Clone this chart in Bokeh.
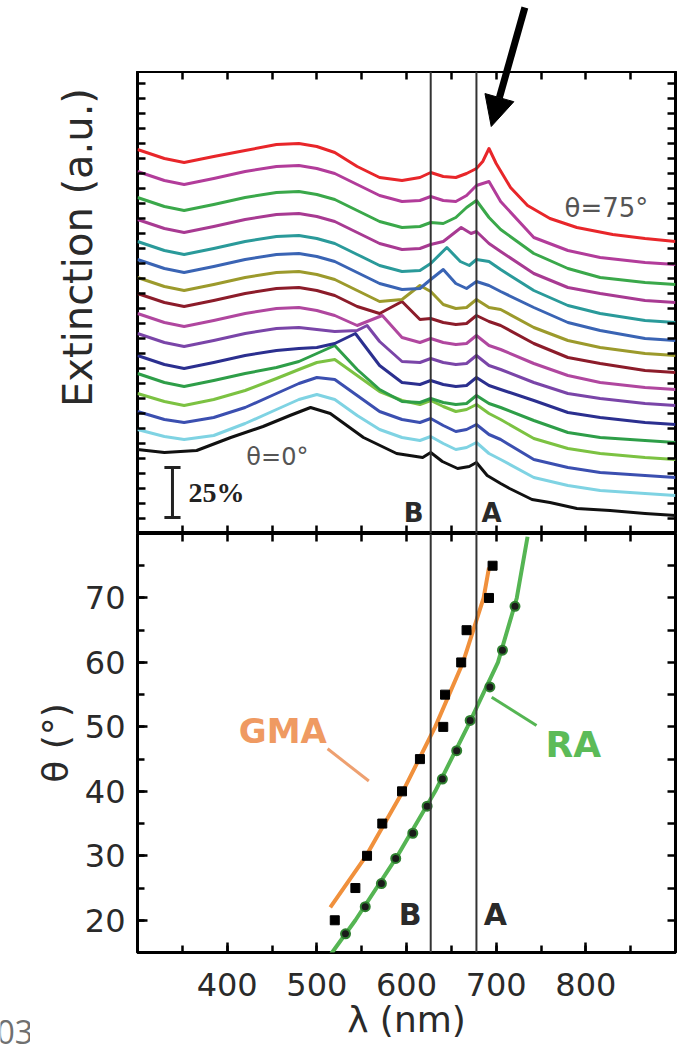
from bokeh.plotting import figure
from bokeh.models import Range1d, LinearAxis, FixedTicker, Span, Label, Arrow, NormalHead
from bokeh.layouts import column, row
from bokeh.embed import file_html
from bokeh.resources import INLINE

# ---------------- data: extinction spectra (offset, %), one per angle ----------------
angles = [0, 5, 10, 15, 20, 25, 30, 35, 40, 45, 50, 55, 60, 65, 70, 75]
curve_colors = ["#111111", "#7fd3e3", "#3b4fb0", "#7cc242", "#2e9e48", "#2b2f8f",
                "#7a45a8", "#b0479f", "#8c1c2a", "#9c9a2c", "#3a64b4", "#2a9a9a",
                "#a83a92", "#3aa84a", "#b23c9a", "#e8262a"]

lam_grid = [300, 330, 352, 385, 420, 455, 480, 500, 520, 545, 570, 595, 615, 627,
            641, 655, 667, 678, 692, 705, 742, 780, 816, 866, 900]

lam_00 = [300, 330, 366, 404, 440, 470, 493, 515, 552, 589, 618, 627, 640, 657, 670,
          678, 690, 705, 715, 740, 760, 790, 827, 866, 900]
ext_00 = [42, 40.5, 41.5, 48, 53.5, 59, 63, 60, 48, 40, 38, 40.5, 36, 32.5, 33.5,
          35.5, 29, 25, 22.5, 17, 15.5, 12.5, 11.5, 10, 9]
lam_05 = lam_grid
ext_05 = [52, 48.5, 47, 49, 55, 62, 67, 69.5, 67, 59, 52, 48, 46.5, 48.5, 45, 42, 43,
          45.5, 40, 37, 28, 24, 21.5, 20, 19]
lam_10 = lam_grid
ext_10 = [61, 57, 55.5, 58, 63, 70, 75, 78, 77, 69, 61, 57, 55.5, 57.5, 54, 51, 52,
          54.5, 49.5, 47, 37, 33, 30.5, 29, 28]
lam_15 = lam_grid
ext_15 = [70, 66, 64, 67, 71.5, 77.5, 82, 85.5, 87, 79, 71, 66.5, 64.5, 66.5, 63.5, 61,
          62, 64.5, 60, 57, 47.5, 42.5, 40, 38, 37]
lam_20 = lam_grid
ext_20 = [80, 75.5, 73.5, 76.5, 80, 83, 86, 90, 94, 82, 72, 66, 65.5, 67.5, 65.5, 64.5,
          65, 69, 65, 63, 56.5, 50.5, 48, 46.5, 45.5]
lam_25 = [300, 330, 352, 385, 420, 455, 480, 500, 520, 543, 570, 595, 615, 627, 641,
          655, 667, 678, 692, 705, 742, 780, 816, 866, 900]
ext_25 = [89, 84.5, 82.5, 85.5, 89, 91.5, 92.5, 93, 95, 100, 84, 75.5, 74.5, 76.5, 74.5,
          73.5, 74, 78, 74, 72, 66.5, 60.5, 58, 55.5, 54.5]
lam_30 = [300, 330, 352, 385, 420, 455, 480, 500, 520, 545, 556, 570, 595, 615, 627,
          641, 655, 667, 678, 692, 705, 742, 780, 816, 866, 900]
ext_30 = [100, 95.5, 93.5, 96.5, 100, 102.5, 103, 102, 101, 101.5, 104, 96, 86, 85.5,
          87.5, 85.5, 84.5, 85, 89, 84, 82, 75.5, 70, 67.5, 65, 64]
lam_35 = [300, 330, 352, 385, 420, 455, 480, 500, 520, 545, 573, 595, 615, 627, 641,
          655, 667, 678, 692, 705, 742, 780, 816, 866, 900]
ext_35 = [110, 105.5, 103.5, 106.5, 110, 112.5, 113, 111.5, 109, 104, 109, 98, 95.5,
          97.5, 95.5, 94.5, 95, 99, 94, 92, 85, 79, 75.5, 73, 72]
lam_40 = lam_grid
ext_40 = [120, 115.5, 113.5, 116.5, 120, 122.5, 123, 121.5, 119, 113.5, 110, 116, 107,
          107.5, 105.5, 104.5, 105, 109, 106, 104, 95, 88, 85, 81.5, 80.5]
lam_45 = lam_grid
ext_45 = [128, 123.5, 121.5, 124.5, 128, 130.5, 131, 129.5, 127, 121.5, 116, 117, 124,
          121, 114.5, 112.5, 113, 117, 113, 112, 103, 96.5, 93, 90, 89]
lam_50 = lam_grid
ext_50 = [137, 132.5, 130.5, 133.5, 137, 139.5, 140, 138.5, 136, 130.5, 125, 122, 122.5,
          127, 132, 125, 122.5, 126, 124, 121, 113, 105.5, 101.5, 97.5, 96.5]
lam_55 = [300, 330, 352, 385, 420, 455, 480, 500, 520, 545, 570, 595, 615, 627, 645,
          660, 670, 678, 692, 705, 742, 780, 816, 866, 900]
ext_55 = [146, 141.5, 139.5, 142.5, 146, 148.5, 149, 147.5, 145, 139.5, 134, 131, 131.5,
          135, 143, 136, 134, 137, 136, 132, 121.5, 114, 110, 106.5, 105.5]
lam_60 = [300, 330, 352, 385, 420, 455, 480, 500, 520, 545, 570, 595, 615, 627, 641,
          661, 672, 678, 692, 705, 742, 780, 816, 866, 900]
ext_60 = [157, 152.5, 150.5, 153.5, 157, 159.5, 160, 158.5, 156, 150.5, 145, 142, 142.5,
          144.5, 146, 153, 150, 151, 145, 141, 130, 123, 120, 116.5, 115.5]
lam_65 = lam_grid
ext_65 = [168, 163.5, 161.5, 164.5, 168, 170.5, 171, 169.5, 167, 161.5, 156, 153, 153.5,
          155.5, 155, 158, 163, 166.5, 158, 152, 140, 132.5, 128, 125.5, 124.5]
lam_70 = lam_grid
ext_70 = [181, 176.5, 174.5, 177.5, 181, 183.5, 184, 182.5, 180, 174.5, 169, 166, 166.5,
          168.5, 166.5, 166, 169, 174, 176, 166, 148, 141.5, 138, 135.5, 134.5]
lam_75 = [300, 330, 352, 385, 420, 455, 480, 500, 520, 545, 570, 595, 615, 627, 641,
          655, 667, 678, 685, 692, 700, 716, 735, 760, 790, 830, 866, 900]
ext_75 = [192, 187.5, 185.5, 188.5, 191.5, 194.5, 195, 193.5, 190.5, 183.5, 178, 176.5,
          178, 180.5, 178.5, 178, 180, 182.5, 186, 192.5, 185, 173, 164, 157.5, 153,
          149.5, 147.5, 146]

spectra_lam = [lam_00, lam_05, lam_10, lam_15, lam_20, lam_25, lam_30, lam_35,
               lam_40, lam_45, lam_50, lam_55, lam_60, lam_65, lam_70, lam_75]
spectra_ext = [ext_00, ext_05, ext_10, ext_15, ext_20, ext_25, ext_30, ext_35,
               ext_40, ext_45, ext_50, ext_55, ext_60, ext_65, ext_70, ext_75]

# wavelengths of the two marked anomalies (nm)
line_B = 627
line_A = 678
scale_bar_pct = 25  # length of the scale bar, % extinction

# ---------------- data: dispersion of the anomalies ----------------
gma_theta = [20, 25, 30, 35, 40, 45, 50, 55, 60, 65, 70, 75]
gma_lambda = [520, 543, 556, 573, 595, 615, 641, 643, 661, 667, 692, 696]
gma_fit_theta = [22, 30, 40, 50, 60, 70, 74.7]
gma_fit_lambda = [515, 555, 596, 632, 663, 686, 692]

ra_theta = [17.9, 22.1, 25.7, 29.6, 33.5, 37.7, 41.9, 46.3, 51.0, 56.2, 61.9, 68.7]
ra_lambda = [532, 554, 572, 588, 607, 623, 640, 656, 671, 693, 707, 721]
ra_fit_theta = [14.8, 20, 30, 40, 50, 60, 70, 79.5]
ra_fit_lambda = [516, 543, 590, 632, 668, 702, 723, 735]

x_major = [400, 500, 600, 700, 800]
x_minor = list(range(300, 901, 50))
theta_major = [20, 30, 40, 50, 60, 70]
theta_minor = list(range(15, 81, 5))
ext_ticks = [i * 7.5 for i in range(31)]

FONT = "DejaVu Sans"
INK = "#2a2a2a"
ORANGE = "#f0903c"
GREEN = "#55b553"
EXT_TOP = 231          # extinction value at the upper frame edge
EXT_ARROW_TOP = 266.5  # extinction value at the top of the page


def plain_ticks(positions):
    """Frame-side axis that only draws short inward ticks (no labels)."""
    return LinearAxis(ticker=FixedTicker(ticks=[], minor_ticks=positions),
                      axis_line_color=None,
                      major_tick_in=0, major_tick_out=0,
                      minor_tick_in=8, minor_tick_out=0,
                      minor_tick_line_width=2.5, minor_tick_line_color="black",
                      major_label_standoff=0)


def labelled_axis(ticks, minor, title, label_standoff=12, title_standoff=6):
    return LinearAxis(ticker=FixedTicker(ticks=ticks, minor_ticks=minor),
                      axis_line_color=None,
                      major_tick_in=10, major_tick_out=0,
                      minor_tick_in=7, minor_tick_out=0,
                      major_tick_line_width=2.5, minor_tick_line_width=2.5,
                      major_tick_line_color="black", minor_tick_line_color="black",
                      major_label_text_font=FONT, major_label_text_font_size="32px",
                      major_label_text_color=INK, major_label_standoff=label_standoff,
                      axis_label=title, axis_label_text_font=FONT,
                      axis_label_text_font_size="36px",
                      axis_label_text_font_style="normal",
                      axis_label_text_color=INK, axis_label_standoff=title_standoff)


def blank(width, height, x_range, y_range, left=0, right=0):
    f = figure(width=width, height=height, x_range=x_range, y_range=y_range,
               x_axis_location=None, y_axis_location=None, toolbar_location=None,
               output_backend="svg", outline_line_color=None,
               background_fill_color="white", border_fill_color="white",
               min_border_left=left, min_border_right=right,
               min_border_top=0, min_border_bottom=0)
    f.xgrid.visible = False
    f.ygrid.visible = False
    return f


x_range = Range1d(300, 900)
ext_range = Range1d(0, EXT_TOP)

# ---------------- strip above the spectra: tail of the arrow ----------------
p_top = blank(692, 71, x_range, Range1d(EXT_TOP, EXT_ARROW_TOP), left=137, right=17)
arrow_tail = (732, 263)
arrow_tip = (694.5, 203.5)
p_top.segment(x0=[arrow_tail[0]], y0=[arrow_tail[1]], x1=[arrow_tip[0]], y1=[arrow_tip[1]],
              line_color="black", line_width=7)

# ---------------- y-axis title of the spectra ----------------
p_ext = blank(100, 462, Range1d(0, 100), ext_range)
p_ext.add_layout(Label(x=77, y=143, text="Extinction (a.u.)", text_font=FONT,
                       text_font_size="40px", text_color=INK, angle=90,
                       angle_units="deg", text_align="center", text_baseline="middle"))

# ---------------- upper panel: spectra ----------------
p1 = figure(width=592, height=462, x_range=x_range, y_range=ext_range,
            x_axis_location=None, y_axis_location=None,
            toolbar_location=None, output_backend="svg",
            min_border_left=37, min_border_right=17, min_border_top=0,
            min_border_bottom=0, outline_line_color="black", outline_line_width=3,
            background_fill_color="white", border_fill_color="white")
p1.xgrid.visible = False
p1.ygrid.visible = False
p1.add_layout(plain_ticks(ext_ticks), "left")
p1.add_layout(plain_ticks(ext_ticks), "right")
p1.add_layout(plain_ticks(x_minor), "above")
p1.add_layout(plain_ticks(x_minor), "below")

for lam, ext, col in zip(spectra_lam, spectra_ext, curve_colors):
    p1.line(lam, ext, line_color=col, line_width=3, line_join="round")

for loc in (line_B, line_A):
    p1.add_layout(Span(location=loc, dimension="height", line_color="#333333",
                       line_width=2))

# scale bar
bar_x = 339
bar_base = 8
p1.segment(x0=[bar_x], y0=[bar_base], x1=[bar_x], y1=[bar_base + scale_bar_pct],
           line_color="#222222", line_width=3)
p1.segment(x0=[bar_x - 9, bar_x - 9], y0=[bar_base, bar_base + scale_bar_pct],
           x1=[bar_x + 9, bar_x + 9], y1=[bar_base, bar_base + scale_bar_pct],
           line_color="#222222", line_width=3)
p1.add_layout(Label(x=357, y=20.5, text=f"{scale_bar_pct}%", text_font="Liberation Serif",
                    text_font_size="28px", text_font_style="bold", text_color="#222222",
                    text_baseline="middle", text_align="left"))

p1.add_layout(Label(x=823, y=163, text="θ=75°", text_font=FONT, text_font_size="26px",
                    text_color="#555555", text_align="center", text_baseline="middle"))
p1.add_layout(Label(x=456, y=38.5, text="θ=0°", text_font=FONT, text_font_size="24px",
                    text_color="#555555", text_align="center", text_baseline="middle"))
p1.add_layout(Label(x=608, y=10.5, text="B", text_font=FONT, text_font_size="26px",
                    text_font_style="bold", text_color=INK, text_align="center",
                    text_baseline="middle"))
p1.add_layout(Label(x=695, y=10.5, text="A", text_font=FONT, text_font_size="26px",
                    text_font_style="bold", text_color=INK, text_align="center",
                    text_baseline="middle"))
p1.add_layout(Arrow(end=NormalHead(size=30, fill_color="black", line_color="black"),
                    x_start=arrow_tail[0], y_start=arrow_tail[1],
                    x_end=arrow_tip[0], y_end=arrow_tip[1],
                    line_color="black", line_width=7))

# ---------------- page number strip at the lower left ----------------
p03 = blank(30, 514, Range1d(0, 30), Range1d(0, 514))
p03.add_layout(Label(x=-4, y=16, text="03", text_font="Open Sans", text_font_size="32px",
                     text_color="#707070", text_align="left", text_baseline="alphabetic"))

# ---------------- lower panel: dispersion ----------------
p2 = figure(width=662, height=514, x_range=x_range, y_range=Range1d(15, 80),
            x_axis_location=None, y_axis_location=None,
            toolbar_location=None, output_backend="svg",
            min_border_left=107, min_border_right=17, min_border_top=0,
            min_border_bottom=95, outline_line_color="black", outline_line_width=3,
            background_fill_color="white", border_fill_color="white")
p2.xgrid.visible = False
p2.ygrid.visible = False
p2.add_layout(labelled_axis(theta_major, theta_minor, "θ (°)"), "left")
p2.add_layout(plain_ticks(theta_minor), "right")
p2.add_layout(labelled_axis(x_major, x_minor, "λ (nm)", label_standoff=20,
                            title_standoff=0), "below")
p2.add_layout(plain_ticks(x_minor), "above")

for loc in (line_B, line_A):
    p2.add_layout(Span(location=loc, dimension="height", line_color="#333333",
                       line_width=2))

p2.line(gma_fit_lambda, gma_fit_theta, line_color=ORANGE, line_width=4)
p2.line(ra_fit_lambda, ra_fit_theta, line_color=GREEN, line_width=4)
p2.scatter(gma_lambda, gma_theta, marker="square", size=9, fill_color="black",
           line_color="black")
p2.scatter(ra_lambda, ra_theta, marker="circle", size=9, fill_color="#1a1a1a",
           line_color="#2f7f30", line_width=2)

# leader lines for the labels
p2.segment(x0=[512], y0=[46.6], x1=[558], y1=[41.6], line_color="#eea070", line_width=3)
p2.segment(x0=[695], y0=[54.6], x1=[745], y1=[50.2], line_color=GREEN, line_width=3)

p2.add_layout(Label(x=462, y=49.4, text="GMA", text_font=FONT, text_font_size="34px",
                    text_font_style="bold", text_color="#ef9a62", text_align="center",
                    text_baseline="middle"))
p2.add_layout(Label(x=786, y=47.3, text="RA", text_font=FONT, text_font_size="36px",
                    text_font_style="bold", text_color="#5cbb58", text_align="center",
                    text_baseline="middle"))
p2.add_layout(Label(x=604, y=20.9, text="B", text_font=FONT, text_font_size="30px",
                    text_font_style="bold", text_color=INK, text_align="center",
                    text_baseline="middle"))
p2.add_layout(Label(x=699, y=20.9, text="A", text_font=FONT, text_font_size="30px",
                    text_font_style="bold", text_color=INK, text_align="center",
                    text_baseline="middle"))

layout = column(p_top, row(p_ext, p1), row(column(p03), p2))
open("out.html", "w").write(file_html(layout, INLINE))
